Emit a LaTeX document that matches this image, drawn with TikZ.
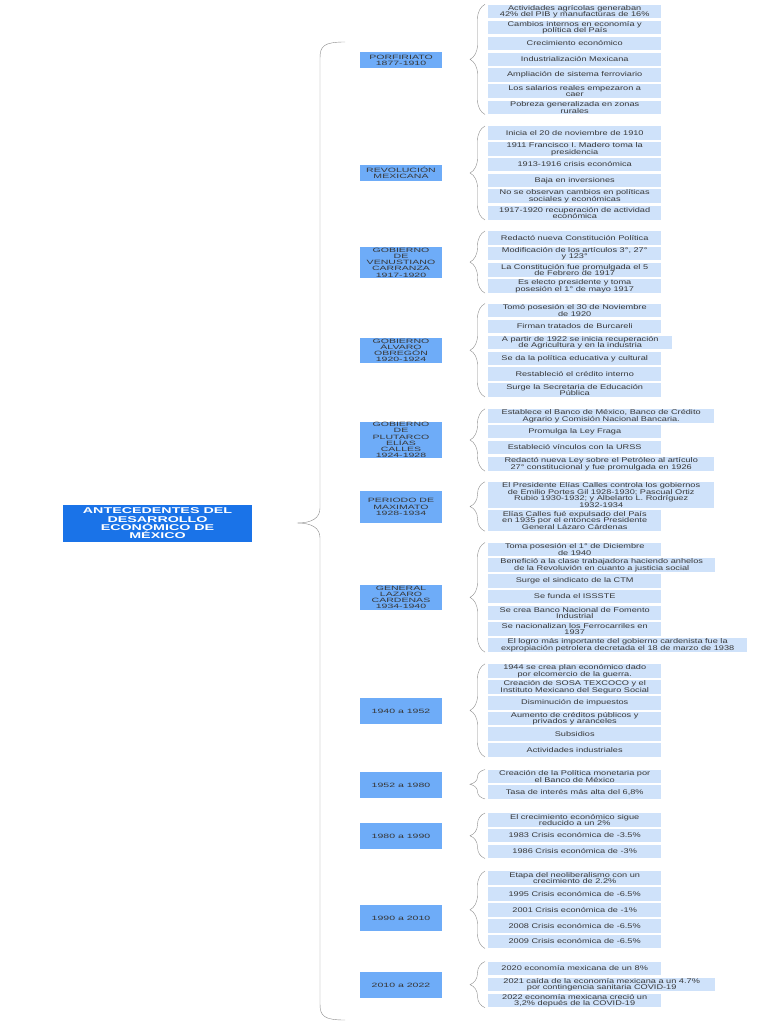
\documentclass[tikz,border=0pt]{standalone}
\usepackage{fontspec}
\usetikzlibrary{decorations.pathreplacing}
\newfontfamily\boxfont[FakeStretch=1.35]{Liberation Sans}
\newfontfamily\epochfont[FakeStretch=1.7]{Liberation Sans}
\newfontfamily\titlefont[FakeStretch=1.7]{Liberation Sans}
\definecolor{titleblue}{RGB}{26,115,232}
\definecolor{epochblue}{RGB}{110,172,248}
\definecolor{factblue}{RGB}{207,226,250}
\definecolor{txtgray}{RGB}{55,55,55}
\definecolor{bracegray}{RGB}{140,140,140}
\tikzset{
  title/.style={fill=titleblue, text=white, font=\titlefont\bfseries\fontsize{8.4}{8.4}\selectfont,
    align=center, minimum width=189pt, minimum height=37pt, inner sep=0pt},
  epoch/.style={fill=epochblue, text=txtgray, font=\epochfont\fontsize{6.2}{6.2}\selectfont,
    align=center, minimum width=82pt, minimum height=16pt, inner sep=0pt},
  fact/.style={fill=factblue, text=txtgray, font=\boxfont\fontsize{6.8}{6.5}\selectfont,
    align=center, minimum width=173pt, minimum height=13.5pt, inner xsep=1pt, inner ysep=0.5pt, anchor=west},
  grp/.style={draw=bracegray, decorate, decoration={brace, amplitude=15pt}},
}
\begin{document}
\begin{tikzpicture}[x=1pt,y=-1pt]
\useasboundingbox (0,0) rectangle (768,1024);

\node[title] (antec) at (157.5,523.5) {ANTECEDENTES DEL\\DESARROLLO\\ECONÓMICO DE\\MÉXICO};

% big brace
\coordinate (bigtop) at (345,42);
\coordinate (bigbot) at (345,1020);
\coordinate (bigtip) at (297,523);
\draw[bracegray] (bigtop) .. controls (324,42) and (320,46) .. (320,58) -- (320,508)
  .. controls (320,518) and (312,523) .. (bigtip)
  .. controls (312,523) and (320,528) .. (320,538) -- (320,1004)
  .. controls (320,1016) and (324,1020) .. (bigbot);

% epochs
\node[epoch] (porf) at (401,60) {PORFIRIATO\\1877-1910};
\node[epoch] (revo) at (401,173) {REVOLUCIÓN\\MEXICANA};
\node[epoch, minimum height=31pt] (carr) at (401,262.5) {GOBIERNO\\DE\\VENUSTIANO\\CARRANZA\\1917-1920};
\node[epoch, minimum height=25pt] (obre) at (401,350.5) {GOBIERNO\\ÁLVARO\\OBREGÓN\\1920-1924};
\node[epoch, minimum height=36pt] (call) at (401,440) {GOBIERNO\\DE\\PLUTARCO\\ELÍAS\\CALLES\\1924-1928};
\node[epoch, minimum height=32pt] (maxi) at (401,507) {PERIODO DE\\MAXIMATO\\1928-1934};
\node[epoch, minimum height=25pt] (card) at (401,597.5) {GENERAL\\LAZARO\\CARDENAS\\1934-1940};
\node[epoch, minimum height=26pt] (p40) at (401,711) {1940 a 1952};
\node[epoch, minimum height=26pt] (p52) at (401,785) {1952 a 1980};
\node[epoch, minimum height=26pt] (p80) at (401,836) {1980 a 1990};
\node[epoch, minimum height=26pt] (p90) at (401,918) {1990 a 2010};
\node[epoch, minimum height=26pt] (p10) at (401,985) {2010 a 2022};

% Porfiriato
\node[fact] (porf1) at (488,11.5) {Actividades agrícolas generaban\\42\% del PIB y manufacturas de 16\%};
\node[fact] (porf2) at (488,27.5) {Cambios internos en economía y\\política del País};
\node[fact] (porf3) at (488,43.5) {Crecimiento económico};
\node[fact] (porf4) at (488,59.5) {Industrialización Mexicana};
\node[fact] (porf5) at (488,75) {Ampliación de sistema ferroviario};
\node[fact] (porf6) at (488,91) {Los salarios reales empezaron a\\caer};
\node[fact] (porf7) at (488,107.5) {Pobreza generalizada en zonas\\rurales};
\draw[grp] ([xshift=-3pt]porf7.south west) -- ([xshift=-3pt]porf1.north west);

% Revolucion
\node[fact] (revo1) at (488,133) {Inicia el 20 de noviembre de 1910};
\node[fact] (revo2) at (488,149) {1911 Francisco I. Madero toma la\\presidencia};
\node[fact] (revo3) at (488,164.5) {1913-1916 crisis económica};
\node[fact] (revo4) at (488,180.5) {Baja en inversiones};
\node[fact] (revo5) at (488,196) {No se observan cambios en políticas\\sociales y económicas};
\node[fact] (revo6) at (488,213) {1917-1920 recuperación de actividad\\económica};
\draw[grp] ([xshift=-3pt]revo6.south west) -- ([xshift=-3pt]revo1.north west);

% Carranza
\node[fact] (carr1) at (488,238) {Redactó nueva Constitución Política};
\node[fact] (carr2) at (488,253.5) {Modificación de los artículos 3°, 27°\\y 123°};
\node[fact] (carr3) at (488,270) {La Constitución fue promulgada el 5\\de Febrero de 1917};
\node[fact] (carr4) at (488,286) {Es electo presidente y toma\\posesión el 1° de mayo 1917};
\draw[grp] ([xshift=-3pt]carr4.south west) -- ([xshift=-3pt]carr1.north west);

% Obregon
\node[fact] (obre1) at (488,310.5) {Tomó posesión el 30 de Noviembre\\de 1920};
\node[fact] (obre2) at (488,326.5) {Firman tratados de Burcareli};
\node[fact, minimum width=184pt] (obre3) at (488,342.5) {A partir de 1922 se inicia recuperación\\de Agricultura y en la industria};
\node[fact] (obre4) at (488,358.5) {Se da la política educativa y cultural};
\node[fact] (obre5) at (488,374) {Restableció el crédito interno};
\node[fact] (obre6) at (488,390) {Surge la Secretaria de Educación\\Pública};
\draw[grp] ([xshift=-3pt]obre6.south west) -- ([xshift=-3pt]obre1.north west);

% Calles
\node[fact, minimum width=226pt] (call1) at (488,416) {Establece el Banco de México, Banco de Crédito\\Agrario y Comisión Nacional Bancaria.};
\node[fact] (call2) at (488,431.5) {Promulga la Ley Fraga};
\node[fact] (call3) at (488,447.5) {Estableció vínculos con la URSS};
\node[fact, minimum width=226pt] (call4) at (488,464) {Redactó nueva Ley sobre el Petróleo al artículo\\27° constitucional y fue promulgada en 1926};
\draw[grp] ([xshift=-3pt]call4.south west) -- ([xshift=-3pt]call1.north west);

% Maximato
\node[fact, minimum width=226pt, minimum height=26pt] (maxi1) at (488,495) {El Presidente Elías Calles controla los gobiernos\\de Emilio Portes Gil 1928-1930; Pascual Ortiz\\Rubio 1930-1932; y Albelarto L. Rodríguez\\1932-1934};
\node[fact, minimum height=21pt] (maxi2) at (488,520.5) {Elías Calles fué expulsado del País\\en 1935 por el entonces Presidente\\General Lázaro Cárdenas};
\draw[grp] ([xshift=-3pt]maxi2.south west) -- ([xshift=-3pt]maxi1.north west);

% Cardenas
\node[fact] (card1) at (488,549.5) {Toma posesión el 1° de Diciembre\\de 1940};
\node[fact, minimum width=227pt] (card2) at (488,565) {Benefició a la clase trabajadora haciendo anhelos\\de la Revoluvión en cuanto a justicia social};
\node[fact] (card3) at (488,581) {Surge el sindicato de la CTM};
\node[fact] (card4) at (488,596.5) {Se funda el ISSSTE};
\node[fact] (card5) at (488,613) {Se crea Banco Nacional de Fomento\\Industrial};
\node[fact] (card6) at (488,629) {Se nacionalizan los Ferrocarriles en\\1937};
\node[fact, minimum width=259pt] (card7) at (488,645) {El logro más importante del gobierno cardenista fue la\\expropiación petrolera decretada el 18 de marzo de 1938};
\draw[grp] ([xshift=-3pt]card7.south west) -- ([xshift=-3pt]card1.north west);

% 1940 a 1952
\node[fact] (p40a) at (488,671) {1944 se crea plan económico dado\\por elcomercio de la guerra.};
\node[fact] (p40b) at (488,687) {Creación de SOSA TEXCOCO y el\\Instituto Mexicano del Seguro Social};
\node[fact] (p40c) at (488,703) {Disminución de impuestos};
\node[fact] (p40d) at (488,718.5) {Aumento de créditos públicos y\\privados y aranceles};
\node[fact] (p40e) at (488,734) {Subsidios};
\node[fact] (p40f) at (488,750) {Actividades industriales};
\draw[grp] ([xshift=-3pt]p40f.south west) -- ([xshift=-3pt]p40a.north west);

% 1952 a 1980
\node[fact] (p52a) at (488,776.5) {Creación de la Política monetaria por\\el Banco de México};
\node[fact] (p52b) at (488,792) {Tasa de interés más alta del 6,8\%};
\draw[grp] ([xshift=-3pt]p52b.south west) -- ([xshift=-3pt]p52a.north west);

% 1980 a 1990
\node[fact] (p80a) at (488,820) {El crecimiento económico sigue\\reducido a un 2\%};
\node[fact] (p80b) at (488,835.5) {1983 Crisis económica de -3.5\%};
\node[fact] (p80c) at (488,851.5) {1986 Crisis económica de -3\%};
\draw[grp] ([xshift=-3pt]p80c.south west) -- ([xshift=-3pt]p80a.north west);

% 1990 a 2010
\node[fact] (p90a) at (488,878) {Etapa del neoliberalismo con un\\crecimiento de 2.2\%};
\node[fact] (p90b) at (488,894) {1995 Crisis económica de -6.5\%};
\node[fact] (p90c) at (488,910) {2001 Crisis económica de -1\%};
\node[fact] (p90d) at (488,926) {2008 Crisis económica de -6.5\%};
\node[fact] (p90e) at (488,941.5) {2009 Crisis económica de -6.5\%};
\draw[grp] ([xshift=-3pt]p90e.south west) -- ([xshift=-3pt]p90a.north west);

% 2010 a 2022
\node[fact] (p10a) at (488,968.5) {2020 economía mexicana de un 8\%};
\node[fact, minimum width=227pt] (p10b) at (488,984.5) {2021 caída de la economía mexicana a un 4.7\%\\por contingencia sanitaria COVID-19};
\node[fact] (p10c) at (488,1000.5) {2022 economía mexicana creció un\\3,2\% depués de la COVID-19};
\draw[grp] ([xshift=-3pt]p10c.south west) -- ([xshift=-3pt]p10a.north west);
\end{tikzpicture}
\end{document}
